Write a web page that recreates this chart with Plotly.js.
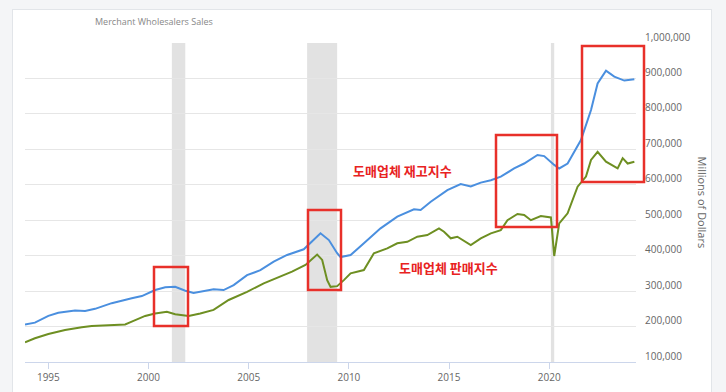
<!DOCTYPE html>
<html>
<head>
<meta charset="utf-8">
<script src="https://cdn.plot.ly/plotly-3.0.1.min.js"></script>
<style>
  html, body { margin: 0; padding: 0; background: #f4f5f7; width: 726px; height: 392px; overflow: hidden; }
  #panel { position: absolute; left: 12px; top: 9px; width: 700px; height: 400px; background: #ffffff; border: 1px solid #e2e5e9; box-sizing: border-box; }
  #chart { position: absolute; left: 0; top: 0; width: 726px; height: 392px; }
</style>
</head>
<body>
<div id="panel"></div>
<div id="chart"></div>
<script>
// Merchant wholesalers inventories (blue), millions of dollars
const invDates = ["1993-11-01","1994-05-01","1995-01-01","1995-07-01","1996-05-01","1996-11-01","1997-05-01","1998-03-01","1999-03-01","1999-09-01","2000-05-01","2000-11-01","2001-05-01","2001-11-01","2002-04-01","2002-08-01","2003-04-01","2003-10-01","2004-04-01","2004-12-01","2005-08-01","2006-04-01","2006-12-01","2007-10-01","2008-02-01","2008-08-01","2009-01-01","2009-06-01","2009-08-01","2010-02-01","2010-10-01","2011-08-01","2012-06-01","2013-04-01","2013-08-01","2014-02-01","2014-12-01","2015-08-01","2016-02-01","2016-08-01","2017-02-01","2017-08-01","2018-04-01","2018-10-01","2019-06-01","2019-10-01","2020-04-01","2020-07-01","2020-12-01","2021-08-01","2022-02-01","2022-06-01","2022-11-01","2023-04-01","2023-10-01","2024-04-01"];
const invValues = [206000,211000,230000,239000,245000,244000,250000,266000,280000,286000,303000,311000,312000,301000,295000,298000,305000,303000,317000,345000,359000,383000,402000,418000,435000,463000,444000,407000,396000,402000,435000,477000,510000,531000,529000,552000,585000,602000,595000,606000,613000,623000,646000,660000,684000,681000,656000,646000,660000,726000,811000,886000,922000,905000,894000,898000];

// Merchant wholesalers sales (green), millions of dollars
const salesDates = ["1993-11-01","1994-05-01","1995-01-01","1995-11-01","1996-09-01","1997-03-01","1998-01-01","1998-11-01","1999-03-01","1999-11-01","2000-05-01","2000-12-01","2001-05-01","2001-11-01","2002-01-01","2002-08-01","2003-04-01","2004-01-01","2004-12-01","2005-10-01","2006-08-01","2007-03-01","2007-11-01","2008-06-01","2008-09-01","2008-12-01","2009-02-01","2009-06-01","2009-10-01","2010-02-01","2010-10-01","2011-04-01","2011-12-01","2012-06-01","2012-12-01","2013-06-01","2013-12-01","2014-07-01","2014-10-01","2015-02-01","2015-06-01","2016-02-01","2016-08-01","2017-02-01","2017-08-01","2017-12-01","2018-06-01","2018-10-01","2019-02-01","2019-08-01","2020-02-01","2020-04-01","2020-07-01","2020-12-01","2021-06-01","2021-11-01","2022-02-01","2022-06-01","2022-11-01","2023-06-01","2023-09-01","2023-12-01","2024-04-01"];
const salesValues = [155600,167000,179000,190000,198000,201600,203500,206000,213700,230000,237000,242000,235000,230000,230000,237000,247000,275000,298000,322000,341000,355000,374000,403000,388000,331000,312000,314000,331000,350000,359500,406600,420700,435000,439000,453500,458000,477000,467600,449000,453500,430000,449000,463000,472000,500000,517500,515000,500000,512000,508000,399000,491000,519500,594500,623000,670000,693000,665000,646000,675000,660000,665000];

// Recession periods (shaded)
const recessionStarts = ["2001-03-01","2007-12-01","2020-02-01"];
const recessionEnds   = ["2001-11-01","2009-06-01","2020-04-01"];

// Axis ticks
const yTickVals = [100000,200000,300000,400000,500000,600000,700000,800000,900000,1000000];
const xTickYears = ["1995","2000","2005","2010","2015","2020"];

const chartTitle = "Merchant Wholesalers Sales";
const yTitle = "Millions of Dollars";
const labelInventory = "도매업체 재고지수";
const labelSales = "도매업체 판매지수";

const traces = [
  { x: invDates, y: invValues, type: "scatter", mode: "lines", name: "Inventories",
    line: { color: "#4a8fdf", width: 2 }, hoverinfo: "skip" },
  { x: salesDates, y: salesValues, type: "scatter", mode: "lines", name: "Sales",
    line: { color: "#6e8f22", width: 2 }, hoverinfo: "skip" }
];

// plot area in pixels: left 25, right 636, top 43, bottom 362
const PL = 25, PR = 636, PT = 43, PB = 362;
const px = v => (v - PL) / (PR - PL);
const py = v => (PB - v) / (PB - PT);

const shapes = [];
for (let i = 0; i < recessionStarts.length; i++) {
  shapes.push({ type: "rect", xref: "x", yref: "paper", x0: recessionStarts[i], x1: recessionEnds[i],
    y0: 0, y1: 1, fillcolor: "#e2e2e2", line: { width: 0 }, layer: "below" });
}
const boxes = [[154,188,267,326],[308,341,210,290],[496,557,135,227],[582,644,46,182]];
boxes.forEach(b => shapes.push({ type: "rect", xref: "paper", yref: "paper",
  x0: px(b[0]), x1: px(b[1]), y0: py(b[3]), y1: py(b[2]),
  line: { color: "#e8302a", width: 2.5 }, fillcolor: "rgba(0,0,0,0)", layer: "above" }));

const annotations = [
  { text: chartTitle, xref: "paper", yref: "paper", x: px(154), y: py(22), xanchor: "center", yanchor: "middle", showarrow: false,
    font: { family: "Open Sans, sans-serif", size: 9, color: "#888" } },
  { text: yTitle, xref: "paper", yref: "paper", x: px(702), y: 0.5, xanchor: "center", yanchor: "middle", showarrow: false, textangle: 90,
    font: { family: "Open Sans, sans-serif", size: 11, color: "#666" } },
  { text: "<b>" + labelInventory + "</b>", xref: "paper", yref: "paper", x: px(402), y: py(170), xanchor: "center", yanchor: "middle", showarrow: false,
    font: { family: "Noto Sans CJK KR, sans-serif", size: 13, color: "#e8231f" } },
  { text: "<b>" + labelSales + "</b>", xref: "paper", yref: "paper", x: px(449), y: py(267), xanchor: "center", yanchor: "middle", showarrow: false,
    font: { family: "Noto Sans CJK KR, sans-serif", size: 13, color: "#e8231f" } }
];

const layout = {
  width: 726, height: 392,
  margin: { l: PL, r: 726 - PR, t: PT, b: 392 - PB, pad: 0 },
  paper_bgcolor: "rgba(0,0,0,0)", plot_bgcolor: "rgba(0,0,0,0)",
  showlegend: false,
  xaxis: {
    type: "date", range: ["1993-11-01", "2024-05-01"],
    tickvals: xTickYears.map(y => y + "-01-01"), ticktext: xTickYears,
    showgrid: false, zeroline: false,
    showline: true, linecolor: "#ccd6eb", linewidth: 1,
    ticks: "outside", ticklen: 6, tickcolor: "#ccd6eb",
    tickfont: { family: "Open Sans, sans-serif", size: 10, color: "#666" }
  },
  yaxis: {
    side: "right", range: [100000, 1000000],
    tickvals: yTickVals, tickformat: ",",
    showgrid: true, gridcolor: "#e6e6e6", gridwidth: 1, zeroline: false, showline: false,
    ticks: "", ticklabelshift: -6, ticklabelstandoff: 8,
    tickfont: { family: "Open Sans, sans-serif", size: 10, color: "#666" }
  },
  shapes: shapes,
  annotations: annotations
};

Plotly.newPlot("chart", traces, layout, { displayModeBar: false, staticPlot: true });
</script>
</body>
</html>
